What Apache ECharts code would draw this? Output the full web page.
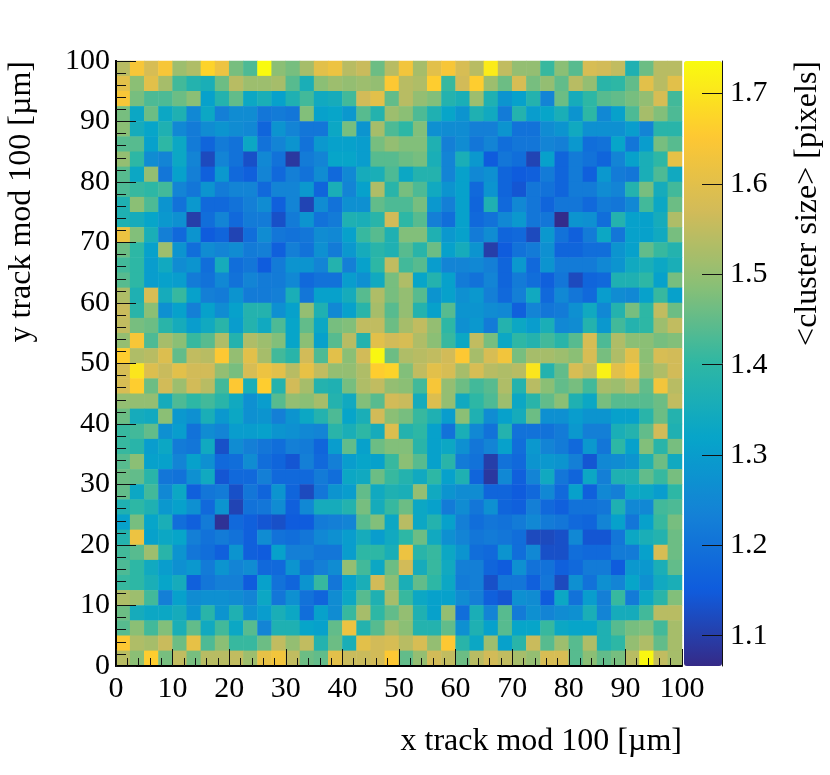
<!DOCTYPE html>
<html>
<head>
<meta charset="utf-8">
<title>cluster size map</title>
<script src="https://cdn.jsdelivr.net/npm/echarts@6/dist/echarts.min.js"></script>
<style>
    html, body { margin: 0; padding: 0; background: #fff; }
    #chart { width: 830px; height: 775px; }
</style>
</head>
<body>
<div id="chart"></div>
<script>
// bin centres in um, 2.5 um wide bins
const xBins = [1.25,3.75,6.25,8.75,11.25,13.75,16.25,18.75,21.25,23.75,26.25,28.75,31.25,33.75,36.25,38.75,41.25,43.75,46.25,48.75,51.25,53.75,56.25,58.75,61.25,63.75,66.25,68.75,71.25,73.75,76.25,78.75,81.25,83.75,86.25,88.75,91.25,93.75,96.25,98.75];
const yBins = xBins.slice();

const xTickLabels = [0, 10, 20, 30, 40, 50, 60, 70, 80, 90, 100];
const scaleTicks = [1.1, 1.2, 1.3, 1.4, 1.5, 1.6, 1.7];

// mean cluster size, first row is the top of the plot (y = 98.75)
const meanClusterSize = [
    [1.54,1.64,1.58,1.64,1.51,1.53,1.67,1.62,1.47,1.43,1.735,1.49,1.47,1.52,1.60,1.62,1.54,1.56,1.46,1.54,1.63,1.52,1.60,1.64,1.58,1.54,1.71,1.55,1.50,1.50,1.41,1.49,1.44,1.58,1.57,1.55,1.37,1.46,1.54,1.54],
    [1.60,1.49,1.60,1.52,1.42,1.38,1.36,1.46,1.54,1.51,1.51,1.52,1.44,1.36,1.49,1.51,1.50,1.51,1.50,1.65,1.54,1.53,1.66,1.41,1.57,1.66,1.51,1.46,1.58,1.47,1.50,1.45,1.54,1.50,1.39,1.40,1.45,1.60,1.54,1.60],
    [1.64,1.47,1.43,1.43,1.46,1.49,1.31,1.38,1.45,1.33,1.36,1.31,1.37,1.42,1.34,1.35,1.42,1.57,1.60,1.45,1.54,1.50,1.48,1.38,1.36,1.51,1.37,1.28,1.31,1.38,1.24,1.46,1.35,1.40,1.44,1.45,1.47,1.50,1.58,1.42],
    [1.47,1.33,1.46,1.33,1.37,1.25,1.33,1.23,1.26,1.26,1.21,1.22,1.21,1.48,1.31,1.32,1.29,1.44,1.38,1.51,1.49,1.43,1.37,1.32,1.28,1.37,1.34,1.22,1.38,1.30,1.32,1.36,1.28,1.40,1.25,1.31,1.43,1.52,1.48,1.43],
    [1.49,1.35,1.32,1.37,1.25,1.22,1.26,1.28,1.26,1.25,1.17,1.28,1.24,1.21,1.21,1.33,1.47,1.28,1.52,1.43,1.40,1.48,1.27,1.26,1.26,1.23,1.23,1.28,1.20,1.20,1.26,1.28,1.34,1.27,1.27,1.27,1.30,1.24,1.39,1.39],
    [1.44,1.44,1.31,1.40,1.33,1.22,1.17,1.22,1.20,1.33,1.20,1.24,1.28,1.20,1.29,1.31,1.31,1.30,1.47,1.50,1.48,1.48,1.37,1.23,1.26,1.21,1.24,1.19,1.21,1.21,1.24,1.23,1.29,1.19,1.20,1.32,1.21,1.30,1.47,1.44],
    [1.50,1.40,1.26,1.24,1.33,1.24,1.12,1.24,1.20,1.13,1.25,1.20,1.09,1.22,1.24,1.32,1.32,1.30,1.44,1.44,1.46,1.47,1.36,1.24,1.36,1.29,1.15,1.21,1.19,1.11,1.31,1.17,1.22,1.20,1.17,1.24,1.31,1.36,1.40,1.61],
    [1.44,1.33,1.50,1.21,1.31,1.23,1.16,1.29,1.18,1.16,1.24,1.18,1.23,1.20,1.26,1.18,1.25,1.35,1.36,1.43,1.33,1.38,1.38,1.24,1.31,1.25,1.27,1.17,1.15,1.16,1.22,1.17,1.22,1.16,1.29,1.22,1.21,1.36,1.43,1.34],
    [1.43,1.41,1.40,1.42,1.24,1.21,1.28,1.22,1.24,1.24,1.18,1.24,1.24,1.29,1.17,1.36,1.24,1.31,1.53,1.39,1.47,1.43,1.34,1.28,1.31,1.18,1.28,1.17,1.14,1.21,1.20,1.17,1.22,1.22,1.26,1.24,1.38,1.47,1.35,1.42],
    [1.37,1.49,1.43,1.28,1.20,1.29,1.18,1.18,1.20,1.23,1.26,1.16,1.24,1.11,1.26,1.20,1.27,1.27,1.45,1.43,1.43,1.47,1.29,1.23,1.31,1.17,1.37,1.18,1.25,1.21,1.17,1.21,1.21,1.18,1.22,1.21,1.25,1.42,1.33,1.46],
    [1.37,1.35,1.32,1.29,1.27,1.10,1.19,1.24,1.18,1.22,1.22,1.13,1.22,1.28,1.20,1.22,1.37,1.36,1.39,1.57,1.40,1.44,1.23,1.19,1.31,1.18,1.20,1.25,1.29,1.21,1.21,1.07,1.28,1.27,1.19,1.38,1.31,1.31,1.35,1.53],
    [1.62,1.48,1.36,1.23,1.18,1.28,1.15,1.17,1.11,1.19,1.26,1.21,1.20,1.21,1.26,1.25,1.31,1.41,1.44,1.37,1.48,1.48,1.37,1.29,1.31,1.22,1.26,1.17,1.18,1.12,1.29,1.20,1.16,1.22,1.33,1.21,1.31,1.31,1.34,1.47],
    [1.46,1.40,1.31,1.51,1.28,1.19,1.26,1.24,1.26,1.22,1.23,1.16,1.23,1.20,1.27,1.22,1.29,1.35,1.39,1.37,1.44,1.39,1.46,1.31,1.35,1.28,1.10,1.15,1.20,1.22,1.27,1.17,1.17,1.19,1.19,1.28,1.31,1.45,1.41,1.38],
    [1.42,1.40,1.30,1.34,1.26,1.28,1.19,1.35,1.19,1.21,1.15,1.22,1.28,1.28,1.24,1.38,1.23,1.31,1.40,1.55,1.42,1.44,1.30,1.24,1.24,1.25,1.23,1.17,1.29,1.18,1.28,1.22,1.22,1.22,1.25,1.28,1.34,1.36,1.33,1.36],
    [1.44,1.40,1.30,1.31,1.30,1.22,1.20,1.25,1.20,1.24,1.22,1.22,1.25,1.18,1.20,1.20,1.30,1.27,1.34,1.47,1.53,1.32,1.38,1.31,1.22,1.20,1.24,1.17,1.22,1.19,1.16,1.21,1.12,1.17,1.18,1.37,1.37,1.40,1.31,1.47],
    [1.53,1.37,1.58,1.35,1.41,1.31,1.23,1.22,1.28,1.22,1.22,1.23,1.36,1.21,1.31,1.31,1.35,1.44,1.53,1.47,1.50,1.44,1.28,1.31,1.27,1.29,1.23,1.18,1.23,1.34,1.18,1.25,1.21,1.18,1.30,1.26,1.25,1.31,1.41,1.31],
    [1.56,1.39,1.49,1.27,1.31,1.23,1.31,1.26,1.31,1.38,1.38,1.27,1.31,1.50,1.37,1.25,1.31,1.39,1.52,1.44,1.50,1.38,1.31,1.44,1.28,1.28,1.26,1.25,1.16,1.24,1.21,1.22,1.27,1.34,1.25,1.38,1.47,1.40,1.55,1.46],
    [1.55,1.47,1.46,1.39,1.35,1.30,1.34,1.39,1.30,1.38,1.34,1.43,1.32,1.45,1.33,1.47,1.48,1.55,1.55,1.46,1.52,1.55,1.50,1.40,1.27,1.29,1.22,1.38,1.33,1.30,1.36,1.25,1.26,1.38,1.29,1.42,1.38,1.40,1.51,1.55],
    [1.50,1.64,1.43,1.52,1.49,1.41,1.44,1.53,1.38,1.53,1.51,1.48,1.32,1.49,1.31,1.44,1.54,1.38,1.60,1.57,1.58,1.53,1.49,1.41,1.33,1.55,1.47,1.33,1.40,1.38,1.42,1.39,1.44,1.58,1.43,1.53,1.49,1.49,1.47,1.48],
    [1.66,1.53,1.54,1.59,1.45,1.55,1.54,1.65,1.50,1.60,1.52,1.42,1.39,1.57,1.43,1.60,1.49,1.57,1.73,1.46,1.53,1.54,1.55,1.57,1.65,1.52,1.58,1.63,1.47,1.52,1.52,1.51,1.49,1.58,1.47,1.53,1.60,1.49,1.58,1.57],
    [1.58,1.70,1.59,1.56,1.60,1.57,1.57,1.50,1.47,1.58,1.62,1.60,1.54,1.61,1.55,1.50,1.50,1.53,1.66,1.67,1.48,1.55,1.60,1.58,1.52,1.58,1.54,1.53,1.54,1.70,1.38,1.45,1.58,1.55,1.72,1.60,1.64,1.50,1.53,1.57],
    [1.58,1.66,1.46,1.57,1.51,1.57,1.54,1.42,1.65,1.36,1.66,1.38,1.57,1.52,1.38,1.37,1.47,1.53,1.55,1.50,1.49,1.42,1.64,1.50,1.46,1.42,1.44,1.53,1.38,1.54,1.49,1.45,1.47,1.42,1.52,1.51,1.54,1.45,1.63,1.54],
    [1.50,1.50,1.50,1.35,1.43,1.40,1.42,1.39,1.34,1.27,1.30,1.44,1.50,1.49,1.52,1.38,1.34,1.48,1.44,1.57,1.56,1.35,1.59,1.50,1.34,1.40,1.43,1.51,1.33,1.39,1.45,1.49,1.37,1.33,1.47,1.44,1.44,1.44,1.46,1.55],
    [1.46,1.35,1.34,1.49,1.29,1.27,1.36,1.29,1.33,1.27,1.28,1.23,1.28,1.33,1.38,1.43,1.32,1.36,1.57,1.49,1.47,1.41,1.37,1.30,1.49,1.37,1.26,1.31,1.35,1.46,1.27,1.27,1.30,1.28,1.28,1.31,1.31,1.39,1.46,1.38],
    [1.41,1.42,1.45,1.27,1.30,1.20,1.26,1.24,1.30,1.30,1.31,1.28,1.27,1.25,1.24,1.39,1.36,1.40,1.35,1.59,1.38,1.40,1.31,1.20,1.36,1.25,1.20,1.38,1.20,1.20,1.20,1.22,1.29,1.23,1.23,1.36,1.38,1.45,1.57,1.37],
    [1.41,1.39,1.30,1.33,1.22,1.21,1.34,1.13,1.26,1.23,1.21,1.19,1.23,1.22,1.17,1.30,1.45,1.31,1.46,1.48,1.48,1.39,1.31,1.33,1.27,1.21,1.24,1.31,1.19,1.29,1.24,1.22,1.18,1.29,1.21,1.40,1.31,1.48,1.39,1.47],
    [1.44,1.49,1.31,1.31,1.24,1.31,1.27,1.18,1.19,1.26,1.19,1.17,1.14,1.23,1.18,1.23,1.30,1.32,1.31,1.41,1.49,1.44,1.31,1.39,1.22,1.20,1.10,1.20,1.18,1.28,1.29,1.28,1.23,1.14,1.25,1.26,1.28,1.37,1.46,1.34],
    [1.46,1.45,1.39,1.21,1.20,1.27,1.34,1.14,1.18,1.18,1.23,1.18,1.18,1.18,1.22,1.19,1.33,1.34,1.46,1.41,1.38,1.34,1.40,1.31,1.37,1.17,1.09,1.25,1.16,1.24,1.34,1.21,1.17,1.33,1.23,1.37,1.37,1.45,1.41,1.47],
    [1.45,1.33,1.42,1.25,1.33,1.16,1.21,1.22,1.13,1.21,1.17,1.28,1.17,1.12,1.21,1.28,1.30,1.45,1.34,1.37,1.36,1.50,1.34,1.28,1.26,1.26,1.17,1.17,1.15,1.18,1.25,1.18,1.31,1.16,1.25,1.23,1.33,1.33,1.30,1.40],
    [1.37,1.40,1.37,1.29,1.31,1.27,1.18,1.28,1.11,1.20,1.21,1.26,1.16,1.25,1.35,1.35,1.38,1.47,1.35,1.41,1.46,1.33,1.31,1.22,1.26,1.21,1.27,1.17,1.16,1.23,1.18,1.16,1.20,1.20,1.21,1.37,1.25,1.25,1.42,1.43],
    [1.31,1.47,1.32,1.36,1.19,1.16,1.22,1.08,1.18,1.16,1.14,1.13,1.15,1.15,1.22,1.23,1.24,1.44,1.48,1.33,1.54,1.33,1.38,1.31,1.23,1.19,1.21,1.20,1.22,1.25,1.22,1.21,1.18,1.17,1.24,1.31,1.21,1.31,1.41,1.47],
    [1.38,1.62,1.31,1.33,1.32,1.23,1.20,1.22,1.20,1.16,1.26,1.20,1.19,1.21,1.25,1.27,1.30,1.35,1.30,1.34,1.40,1.46,1.34,1.27,1.24,1.21,1.22,1.21,1.19,1.12,1.12,1.13,1.25,1.14,1.14,1.21,1.33,1.36,1.38,1.46],
    [1.42,1.44,1.51,1.39,1.28,1.21,1.19,1.16,1.28,1.16,1.15,1.31,1.23,1.23,1.21,1.21,1.30,1.40,1.40,1.36,1.62,1.39,1.41,1.33,1.28,1.19,1.18,1.28,1.19,1.25,1.13,1.13,1.19,1.18,1.18,1.22,1.22,1.31,1.58,1.46],
    [1.43,1.40,1.34,1.30,1.27,1.29,1.22,1.28,1.24,1.26,1.18,1.18,1.28,1.20,1.23,1.26,1.50,1.42,1.33,1.46,1.57,1.35,1.41,1.34,1.23,1.23,1.17,1.15,1.27,1.20,1.20,1.16,1.18,1.22,1.22,1.15,1.29,1.29,1.36,1.45],
    [1.41,1.40,1.36,1.32,1.35,1.16,1.21,1.23,1.23,1.15,1.31,1.20,1.17,1.28,1.41,1.21,1.31,1.36,1.57,1.49,1.36,1.45,1.40,1.33,1.22,1.23,1.13,1.21,1.21,1.16,1.21,1.12,1.27,1.20,1.27,1.24,1.32,1.27,1.34,1.36],
    [1.53,1.51,1.42,1.23,1.31,1.26,1.27,1.27,1.26,1.24,1.33,1.21,1.27,1.20,1.17,1.26,1.33,1.44,1.37,1.52,1.41,1.33,1.31,1.31,1.26,1.23,1.16,1.14,1.27,1.26,1.15,1.33,1.20,1.30,1.23,1.41,1.22,1.33,1.39,1.48],
    [1.46,1.35,1.33,1.33,1.35,1.28,1.39,1.28,1.37,1.27,1.30,1.36,1.33,1.19,1.31,1.26,1.41,1.52,1.40,1.45,1.50,1.37,1.31,1.50,1.19,1.36,1.24,1.44,1.22,1.27,1.24,1.26,1.27,1.36,1.24,1.35,1.35,1.42,1.54,1.54],
    [1.44,1.49,1.42,1.48,1.36,1.45,1.34,1.42,1.33,1.44,1.24,1.37,1.37,1.32,1.31,1.45,1.62,1.38,1.44,1.52,1.49,1.38,1.38,1.45,1.27,1.37,1.31,1.44,1.32,1.32,1.41,1.33,1.32,1.32,1.37,1.44,1.47,1.48,1.42,1.52],
    [1.65,1.53,1.52,1.56,1.46,1.61,1.43,1.49,1.41,1.41,1.46,1.55,1.50,1.55,1.38,1.46,1.36,1.60,1.57,1.58,1.54,1.58,1.50,1.65,1.39,1.33,1.51,1.31,1.39,1.56,1.44,1.51,1.44,1.53,1.37,1.40,1.50,1.53,1.45,1.52],
    [1.54,1.49,1.66,1.47,1.55,1.47,1.54,1.54,1.55,1.51,1.61,1.63,1.55,1.46,1.45,1.60,1.56,1.56,1.57,1.65,1.45,1.50,1.57,1.55,1.46,1.54,1.57,1.55,1.52,1.50,1.58,1.58,1.44,1.49,1.45,1.47,1.54,1.73,1.55,1.52]
];

const fontName = 'Liberation Serif';
const birdColors = ['#352A87', '#0F5CDD', '#1481D6', '#06A4CA', '#2EB7A4', '#87BF77', '#D1BB59', '#FEC832', '#F9FB0E'];

function buildCells() {
    const cells = [];
    meanClusterSize.forEach((row, rowIndex) => {
        row.forEach((value, colIndex) => {
            cells.push([colIndex, yBins.length - 1 - rowIndex, value]);
        });
    });
    return cells;
}

const chart = echarts.init(document.getElementById('chart'), null, { renderer: 'canvas' });

chart.setOption({
    animation: false,
    backgroundColor: '#fff',
    textStyle: { fontFamily: fontName },
    grid: [
        { left: 116, top: 61, width: 566, height: 605, containLabel: false },
        { left: 684, top: 61, width: 38, height: 605, containLabel: false }
    ],
    xAxis: [
        {
            // bins of the heatmap, only its line is shown (top frame)
            type: 'category',
            gridIndex: 0,
            position: 'top',
            data: xBins,
            axisLine: { lineStyle: { color: '#777', width: 1 } },
            axisTick: { show: false },
            axisLabel: { show: false },
            splitLine: { show: false },
            z: 5
        },
        {
            type: 'value',
            gridIndex: 0,
            position: 'bottom',
            min: 0,
            max: 100,
            interval: 10,
            axisLine: { onZero: false, lineStyle: { color: '#000', width: 2 } },
            axisTick: { inside: true, length: 17, lineStyle: { color: '#111', width: 1 } },
            minorTick: { show: true, splitNumber: 5, length: 8, lineStyle: { color: '#111', width: 1 } },
            axisLabel: {
                color: '#000',
                fontFamily: fontName,
                fontSize: 30,
                margin: 8,
                customValues: xTickLabels
            },
            splitLine: { show: false },
            z: 5
        },
        { type: 'value', gridIndex: 1, show: false, min: 0, max: 1 }
    ],
    yAxis: [
        {
            type: 'category',
            gridIndex: 0,
            position: 'right',
            data: yBins,
            axisLine: { lineStyle: { color: '#000', width: 2 } },
            axisTick: { show: false },
            axisLabel: { show: false },
            splitLine: { show: false },
            z: 5
        },
        {
            type: 'value',
            gridIndex: 0,
            position: 'left',
            min: 0,
            max: 100,
            interval: 10,
            axisLine: { onZero: false, lineStyle: { color: '#000', width: 2 } },
            axisTick: { inside: true, length: 20, lineStyle: { color: '#111', width: 1 } },
            minorTick: { show: true, splitNumber: 5, length: 10, lineStyle: { color: '#111', width: 1 } },
            axisLabel: {
                color: '#000',
                fontFamily: fontName,
                fontSize: 30,
                margin: 6,
                padding: [2, 0, 0, 0]
            },
            splitLine: { show: false },
            z: 5
        },
        {
            // colour scale axis
            type: 'value',
            gridIndex: 1,
            position: 'right',
            min: 1.0665,
            max: 1.736,
            axisLine: { onZero: false, lineStyle: { color: '#111', width: 1 } },
            axisTick: { inside: true, length: 20, customValues: scaleTicks, lineStyle: { color: '#111', width: 1 } },
            axisLabel: {
                color: '#000',
                fontFamily: fontName,
                fontSize: 30,
                margin: 8,
                padding: [4, 0, 0, 0],
                customValues: scaleTicks,
                formatter: (v) => v.toFixed(1)
            },
            splitLine: { show: false },
            z: 5
        }
    ],
    visualMap: {
        type: 'continuous',
        seriesIndex: 0,
        min: 1.0665,
        max: 1.736,
        left: 684,
        top: 61,
        padding: 0,
        itemWidth: 38,
        itemHeight: 605,
        calculable: false,
        realtime: false,
        hoverLink: false,
        showLabel: false,
        text: null,
        inRange: { color: birdColors }
    },
    graphic: [
        {
            type: 'text',
            x: 682,
            y: 742,
            style: { text: 'x track mod 100 [µm]', font: '32px "Liberation Serif"', fill: '#000', align: 'right', verticalAlign: 'middle' }
        },
        {
            type: 'text',
            x: 22,
            y: 61,
            rotation: Math.PI / 2,
            style: { text: 'y track mod 100 [µm]', font: '32px "Liberation Serif"', fill: '#000', align: 'right', verticalAlign: 'middle' }
        },
        {
            type: 'text',
            x: 808,
            y: 61,
            rotation: Math.PI / 2,
            style: { text: '<cluster size> [pixels]', font: '32px "Liberation Serif"', fill: '#000', align: 'right', verticalAlign: 'middle' }
        }
    ],
    series: [
        {
            type: 'heatmap',
            xAxisIndex: 0,
            yAxisIndex: 0,
            data: buildCells(),
            itemStyle: { borderWidth: 0 },
            progressive: 0
        }
    ]
});
</script>
</body>
</html>
